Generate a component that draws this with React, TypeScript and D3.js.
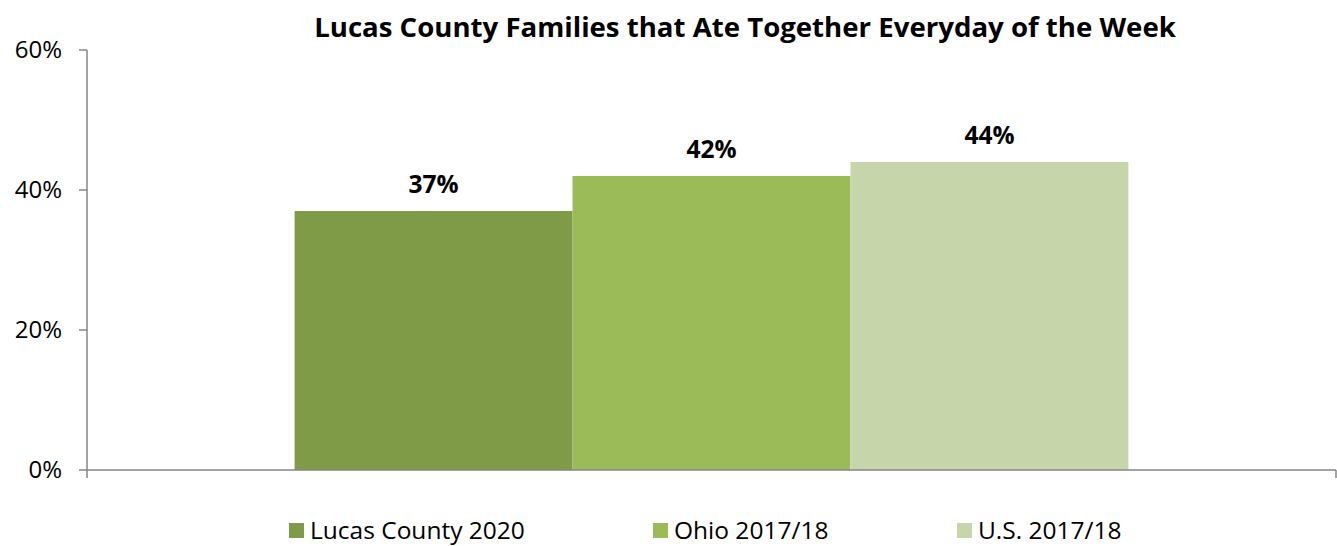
import React from "react";
import * as d3 from "d3";

const categories = [""];
const seriesNames = ["Lucas County 2020", "Ohio 2017/18", "U.S. 2017/18"];
const seriesValues = [0.37, 0.42, 0.44];
const seriesColors = ["#7F9B48", "#9BBB59", "#C6D6AA"];
const yTicks = [0, 0.2, 0.4, 0.6];
const title = "Lucas County Families that Ate Together Everyday of the Week";

const W = 1337;
const H = 546;
const left = 87;
const right = 1336;
const top = 50;
const bottom = 470;
const FONT = "'Open Sans', 'Noto Sans', sans-serif";

export default function App() {
  const y = d3.scaleLinear().domain([0, 0.6]).range([bottom, top]);
  const x0 = d3.scaleBand().domain(categories).range([left, right]).paddingInner(0).paddingOuter(0.249);
  const x1 = d3.scaleBand().domain(seriesNames).range([0, x0.bandwidth()]).padding(0);
  const legendX = [289, 653, 957];
  return (
    <svg width={W} height={H} style={{ position: "absolute", left: 0, top: 0 }}>
      <rect width={W} height={H} fill="#fff" />
      <text x={745} y={37} textAnchor="middle" fontFamily={FONT} fontWeight="bold" fontSize={27.6} fill="#000">
        {title}
      </text>
      {categories.map((c) =>
        seriesNames.map((s, i) => {
          const bx = (x0(c) ?? 0) + (x1(s) ?? 0);
          const v = seriesValues[i];
          return (
            <g key={s}>
              <rect x={bx} y={y(v)} width={x1.bandwidth()} height={bottom - y(v)} fill={seriesColors[i]} />
              <text x={bx + x1.bandwidth() / 2} y={y(v) - 18} textAnchor="middle" fontFamily={FONT} fontWeight="bold" fontSize={24.5} fill="#000">
                {d3.format(".0%")(v)}
              </text>
            </g>
          );
        })
      )}
      <line x1={left} x2={left} y1={top} y2={bottom + 8} stroke="#868686" strokeWidth={1.5} />
      <line x1={left} x2={right} y1={bottom} y2={bottom} stroke="#868686" strokeWidth={1.5} />
      <line x1={right} x2={right} y1={bottom} y2={bottom + 8} stroke="#868686" strokeWidth={1.5} />
      {yTicks.map((t) => (
        <g key={t}>
          <line x1={left - 8} x2={left} y1={y(t)} y2={y(t)} stroke="#868686" strokeWidth={1.5} />
          <text x={62} y={y(t) + 8} textAnchor="end" fontFamily={FONT} fontSize={24} fill="#000">
            {d3.format(".0%")(t)}
          </text>
        </g>
      ))}
      {seriesNames.map((s, i) => (
        <g key={s}>
          <rect x={legendX[i]} y={523} width={15} height={15} fill={seriesColors[i]} />
          <text x={legendX[i] + 21} y={538.5} fontFamily={FONT} fontSize={24.5} fill="#000">
            {s}
          </text>
        </g>
      ))}
    </svg>
  );
}
